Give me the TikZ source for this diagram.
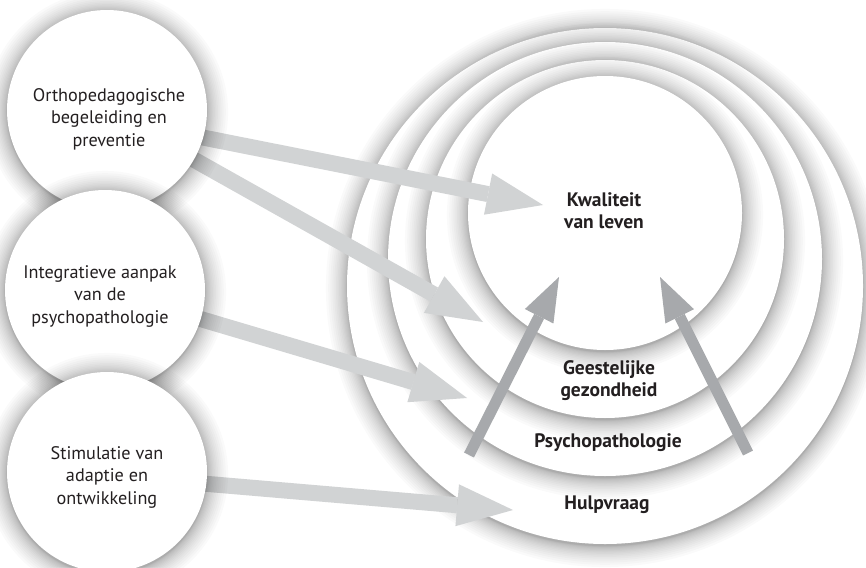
\documentclass[tikz,border=0pt]{standalone}
\usepackage{fontspec}
\setmainfont{PT Sans}
\usetikzlibrary{arrows.meta}

\definecolor{arrowlight}{HTML}{D1D3D4}
\definecolor{arrowdark}{HTML}{A7A9AC}
\definecolor{ink}{HTML}{231F20}

% soft glow under a disc: centre (#1,#2), radius #3 (pt)
\newcommand{\discglow}[3]{%
  \foreach \k in {1,...,18}{%
    \fill[black, opacity=0.02] (#1,#2+2) circle[radius={#3pt+0.065pt*\k*\k}];
  }%
}

\tikzset{
  disc/.style={circle, fill=white, inner sep=0pt, minimum size=#1},
  plainlabel/.style={align=center, text=ink, font=\fontsize{18.2}{22.5}\selectfont},
  boldlabel/.style={align=center, text=ink, font=\bfseries\fontsize{19.5}{22}\selectfont},
  widearrow/.style={draw=arrowlight, line width=16pt,
    -{Triangle[length=56pt, width=42pt, line width=0pt]}},
  risearrow/.style={draw=arrowdark, line width=11pt,
    -{Triangle[length=44pt, width=32pt, line width=0pt]}},
}

\begin{document}
\begin{tikzpicture}[x=1pt, y=-1pt]
\useasboundingbox (0,0) rectangle (866,567);
\fill[white] (0,0) rectangle (866,567);

% nested rings, outermost first
\discglow{605}{286}{258}
\node[disc=516pt] (hulpvraag) at (605,286) {};
\discglow{605}{259}{217}
\node[disc=434pt] (psycho) at (605,259) {};
\discglow{605}{239}{179}
\node[disc=358pt] (geest) at (605,239) {};
\discglow{605}{213}{137}
\node[disc=274pt] (kwaliteit) at (605,213) {};

\node[boldlabel] (t-kwal)  at (604,211) {Kwaliteit\\van leven};
\node[boldlabel] (t-geest) at (609,381) {Geestelijke\\gezondheid};
\node[boldlabel] (t-psy)   at (608,443) {Psychopathologie};
\node[boldlabel] (t-hulp)  at (607,505) {Hulpvraag};

% arrow ends
\coordinate (s1) at (150,127);  \coordinate (e1) at (543,205);
\coordinate (s2) at (150,135);  \coordinate (e2) at (483,322);
\coordinate (s3) at (150,304);  \coordinate (e3) at (467,398);
\coordinate (s4) at (150,479);  \coordinate (e4) at (513,510);
\coordinate (u1) at (469,455);  \coordinate (v1) at (559,277);
\coordinate (u2) at (748,453);  \coordinate (v2) at (660,277);

\draw[widearrow] (s1) -- (e1);
\draw[widearrow] (s2) -- (e2);
\draw[widearrow] (s3) -- (e3);
\draw[widearrow] (s4) -- (e4);
\draw[risearrow] (u1) -- (v1);
\draw[risearrow] (u2) -- (v2);

% the three approaches on the left
\discglow{107}{110}{100}
\node[disc=200pt] (ortho) at (107,110) {};
\discglow{105}{290}{100}
\node[disc=200pt] (integr) at (105,290) {};
\discglow{107}{472}{100}
\node[disc=200pt] (stim) at (107,472) {};

\node[plainlabel] (t-ortho)  at (109,119) {Orthopedagogische\\begeleiding en\\preventie};
\node[plainlabel] (t-integr) at (100,296) {Integratieve aanpak\\van de\\psychopathologie};
\node[plainlabel] (t-stim)   at (107,477) {Stimulatie van\\adaptie en\\ontwikkeling};
\end{tikzpicture}
\end{document}
